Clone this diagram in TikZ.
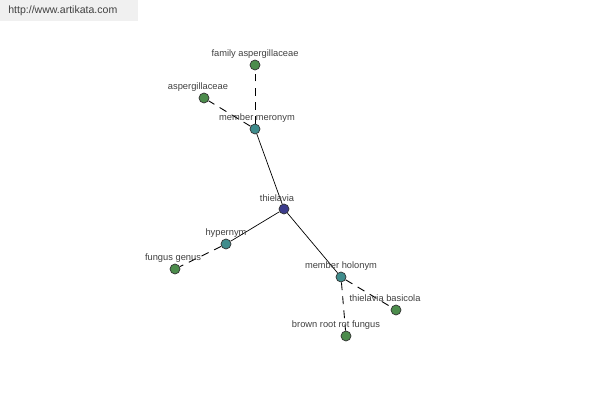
\documentclass[tikz,border=0pt]{standalone}
\usepackage{fontspec}
\setmainfont{Liberation Sans}
\usetikzlibrary{backgrounds}
\definecolor{hubblue}{HTML}{3C3C8C}
\definecolor{reltea}{HTML}{3F8C8C}
\definecolor{leafgreen}{HTML}{4C8C4C}
\definecolor{labelgray}{HTML}{404040}
\tikzset{
  wordnode/.style={circle, draw=black!80, line width=0.4pt, minimum size=0.2cm, inner sep=0pt},
  hub/.style={wordnode, fill=hubblue},
  relation/.style={wordnode, fill=reltea},
  leaf/.style={wordnode, fill=leafgreen},
  wordlabel/.style={text=labelgray, font=\fontsize{5.3}{6}\selectfont, inner sep=1pt},
  link/.style={black, line width=0.4pt},
  dashlink/.style={black, line width=0.5pt, dash pattern=on 4.5pt off 3.5pt}
}
\begin{document}
\begin{tikzpicture}
  \useasboundingbox (0,0) rectangle (12,-8);
  \fill[black!6] (0,0) rectangle (2.76,-0.42);
  \node[anchor=west, text=labelgray, font=\fontsize{6}{7}\selectfont, inner sep=0pt] (site) at (0.16,-0.22) {http://www.artikata.com};
  % nodes
  \node[hub] (thielavia) at (5.68,-4.18) {};
  \node[relation] (meronym) at (5.10,-2.58) {};
  \node[leaf] (familyasp) at (5.10,-1.30) {};
  \node[leaf] (asper) at (4.08,-1.96) {};
  \node[relation] (hypernym) at (4.52,-4.88) {};
  \node[leaf] (genus) at (3.50,-5.38) {};
  \node[relation] (holonym) at (6.82,-5.54) {};
  \node[leaf] (basicola) at (7.92,-6.20) {};
  \node[leaf] (rootrot) at (6.92,-6.72) {};
  % connectors
  \begin{scope}[on background layer]
    \draw[link] (thielavia) -- (meronym);
    \draw[link] (thielavia) -- (hypernym);
    \draw[link] (thielavia) -- (holonym);
    \draw[dashlink] (meronym) -- (familyasp);
    \draw[dashlink] (meronym) -- (asper);
    \draw[dashlink] (hypernym) -- (genus);
    \draw[dashlink] (holonym) -- (basicola);
    \draw[dashlink] (holonym) -- (rootrot);
  \end{scope}
  % labels
  \node[wordlabel] (thielavialabel) at (5.54,-3.96) {thielavia};
  \node[wordlabel] (meronymlabel) at (5.14,-2.36) {member meronym};
  \node[wordlabel] (familylabel) at (5.10,-1.08) {family aspergillaceae};
  \node[wordlabel] (asperlabel) at (3.96,-1.74) {aspergillaceae};
  \node[wordlabel] (hypernymlabel) at (4.52,-4.66) {hypernym};
  \node[wordlabel] (genuslabel) at (3.46,-5.16) {fungus genus};
  \node[wordlabel] (holonymlabel) at (6.82,-5.32) {member holonym};
  \node[wordlabel] (basicolalabel) at (7.70,-5.96) {thielavia basicola};
  \node[wordlabel] (rootrotlabel) at (6.72,-6.50) {brown root rot fungus};
\end{tikzpicture}
\end{document}
